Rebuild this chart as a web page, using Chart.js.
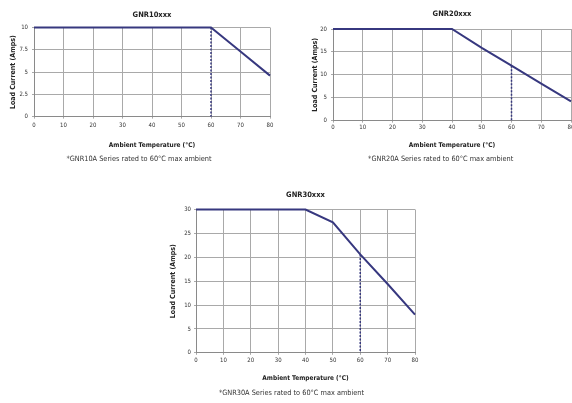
<!DOCTYPE html>
<html>
<head>
<meta charset="utf-8">
<script src="https://cdn.jsdelivr.net/npm/chart.js@4.4.1/dist/chart.umd.min.js"></script>
<style>
  html, body { margin: 0; padding: 0; background: #fff; overflow: hidden; }
  body { width: 572px; height: 403px; position: relative; }
  .box { position: absolute; }
</style>
</head>
<body>
<div class="box" style="left:0px;top:0px;width:286px;height:170px"><canvas id="c10"></canvas></div>
<div class="box" style="left:286px;top:0px;width:292px;height:170px"><canvas id="c20"></canvas></div>
<div class="box" style="left:150px;top:183px;width:280px;height:220px"><canvas id="c30"></canvas></div>
<script>
// derating curves
const temps = [0, 10, 20, 30, 40, 50, 60, 70, 80];
const gnr10Amps = [10, 10, 10, 10, 10, 10, 10, 7.3, 4.6];
const gnr20Amps = [20, 20, 20, 20, 20, 15.9, 12, 8.1, 4.2];
const gnr30Amps = [30, 30, 30, 30, 30, 27.3, 20.6, 14.4, 8];

const ratedTemp = 60;   // dotted marker: max ambient
const xTitle = 'Ambient Temperature (°C)';
const yTitle = 'Load Current (Amps)';
const titles = ['GNR10xxx', 'GNR20xxx', 'GNR30xxx'];
const footnotes = [
  '*GNR10A Series rated to 60°C max ambient',
  '*GNR20A Series rated to 60°C max ambient',
  '*GNR30A Series rated to 60°C max ambient'
];
const yMax = [10, 20, 30];
const yStep = [2.5, 5, 5];

const FONT = '"Liberation Sans Narrow", "DejaVu Sans Condensed", "Liberation Sans", sans-serif';
const NAVY = '#37387f';
const GRID = '#a9a9a9';

function makeChart(id, amps, idx, lay) {
  const ratedY = amps[temps.indexOf(ratedTemp)];
  return new Chart(document.getElementById(id), {
    type: 'line',
    data: {
      datasets: [{
        data: temps.map((t, i) => ({ x: t, y: amps[i] })),
        borderColor: NAVY,
        borderWidth: 2,
        pointRadius: 0,
        tension: 0,
        clip: 4
      }, {
        data: [{ x: ratedTemp, y: ratedY }, { x: ratedTemp, y: 0 }],
        borderColor: NAVY,
        borderWidth: 1.5,
        borderDash: [2, 1.5],
        pointRadius: 0
      }]
    },
    options: {
      responsive: true,
      maintainAspectRatio: false,
      animation: false,
      layout: { padding: { left: lay.left, right: lay.right, top: 0, bottom: 0 } },
      plugins: {
        legend: { display: false },
        tooltip: { enabled: false },
        title: {
          display: true,
          fullSize: false,
          text: titles[idx],
          color: '#222',
          font: { family: FONT, size: 7.5, weight: 'bold' },
          padding: { top: lay.titleTop, bottom: lay.titleBottom }
        },
        subtitle: {
          display: true,
          position: 'bottom',
          text: footnotes[idx],
          color: '#333',
          font: { family: FONT, size: 7.3 },
          padding: { top: 1, bottom: lay.footBottom }
        }
      },
      scales: {
        x: {
          type: 'linear',
          min: 0,
          max: 80,
          ticks: {
            stepSize: 10,
            color: '#333',
            padding: lay.xTickPad,
            maxRotation: 0,
            font: { family: FONT, size: 6 }
          },
          grid: { color: GRID, lineWidth: 1, tickLength: 2 },
          border: { color: '#8a8a8a', width: 1 },
          title: {
            display: true,
            text: xTitle,
            color: '#222',
            font: { family: FONT, size: 6.5, weight: 'bold' },
            padding: { top: lay.xTitleTop, bottom: lay.xTitleBottom }
          }
        },
        y: {
          min: 0,
          max: yMax[idx],
          ticks: {
            stepSize: yStep[idx],
            color: '#333',
            padding: lay.yTickPad,
            font: { family: FONT, size: 6 }
          },
          grid: { color: GRID, lineWidth: 1, tickLength: 2 },
          border: { color: '#8a8a8a', width: 1 },
          title: {
            display: true,
            text: yTitle,
            color: '#222',
            font: { family: FONT, size: 7, weight: 'bold' },
            padding: { top: 0.5, bottom: 0 }
          },
          afterFit: s => { s.width = lay.yWidth; }
        }
      }
    }
  });
}

makeChart('c10', gnr10Amps, 0, {
  left: 8, right: 16, yWidth: 26, yTickPad: 4,
  titleTop: 10.5, titleBottom: 8,
  xTickPad: 3.4, xTitleTop: 9, xTitleBottom: 4.2, footBottom: 6.6
});
makeChart('c20', gnr20Amps, 1, {
  left: 24.4, right: 7, yWidth: 22.6, yTickPad: 4,
  titleTop: 9.5, titleBottom: 10.5,
  xTickPad: 1.4, xTitleTop: 9, xTitleBottom: 4.2, footBottom: 6.6
});
makeChart('c30', gnr30Amps, 2, {
  left: 18, right: 15, yWidth: 28, yTickPad: 3,
  titleTop: 7.5, titleBottom: 10,
  xTickPad: 2, xTitleTop: 8.1, xTitleBottom: 5.7, footBottom: 5.6
});
</script>
</body>
</html>
